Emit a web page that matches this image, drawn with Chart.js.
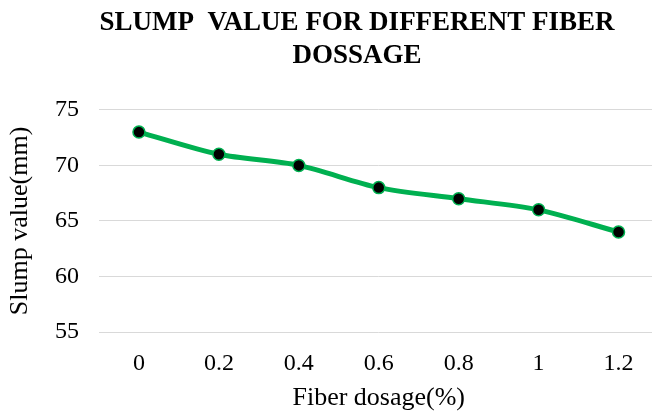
<!DOCTYPE html>
<html>
<head>
<meta charset="utf-8">
<script src="https://cdn.jsdelivr.net/npm/chart.js@4/dist/chart.umd.min.js"></script>
<style>
  html, body { margin: 0; padding: 0; background: #fff; overflow: hidden; }
  #wrap { width: 666px; height: 411px; }
</style>
</head>
<body>
<div id="wrap"><canvas id="c" width="666" height="411"></canvas></div>
<script>
// Slump test results per fiber dosage
const dosages = ['0', '0.2', '0.4', '0.6', '0.8', '1', '1.2'];
const slumpValues = [73, 71, 70, 68, 67, 66, 64];
const titleLines = ['SLUMP  VALUE FOR DIFFERENT FIBER', 'DOSSAGE'];
const yAxisLabel = 'Slump value(mm)';
const xAxisLabel = 'Fiber dosage(%)';

const serif = '"Liberation Serif", "Times New Roman", serif';
const green = '#00B050';
const gridGrey = '#d9d9d9';

// Nudge the title block to the right of the canvas centre
const titleShift = {
  id: 'titleShift',
  afterLayout(chart) {
    const t = chart.titleBlock;
    if (t) { t.left += 24; t.right += 24; }
  }
};

new Chart(document.getElementById('c'), {
  type: 'line',
  data: {
    labels: dosages,
    datasets: [{
      data: slumpValues,
      borderColor: green,
      borderWidth: 5,
      tension: 0.3,
      pointRadius: 6,
      pointBackgroundColor: '#000',
      pointBorderColor: green,
      pointBorderWidth: 1.5,
      fill: false
    }]
  },
  options: {
    responsive: false,
    animation: false,
    layout: { padding: { top: 0, left: 0, right: 0, bottom: 0 } },
    plugins: {
      legend: { display: false },
      tooltip: { enabled: false },
      title: {
        display: true,
        text: titleLines,
        color: '#000',
        font: { family: serif, size: 27, weight: 'bold', lineHeight: 1.22 },
        padding: { top: 7, bottom: 37 }
      }
    },
    scales: {
      x: {
        offset: true,
        grid: { display: false, drawTicks: false },
        border: { display: false },
        ticks: { color: '#000', font: { family: serif, size: 24 }, padding: 17 },
        title: {
          display: true, text: xAxisLabel, color: '#000',
          font: { family: serif, size: 26 }, padding: { top: 0, bottom: -3 }
        },
        afterFit(s) { s.height = 79; }
      },
      y: {
        min: 55, max: 75,
        grid: { color: gridGrey, lineWidth: 1, drawTicks: false },
        border: { display: false },
        ticks: { stepSize: 5, color: '#000', font: { family: serif, size: 24 }, padding: 20 },
        title: {
          display: true, text: yAxisLabel, color: '#000',
          font: { family: serif, size: 26 }, padding: { top: 5, bottom: 0 }
        },
        afterFit(s) { s.width = 99; }
      }
    }
  },
  plugins: [titleShift]
});
</script>
</body>
</html>
